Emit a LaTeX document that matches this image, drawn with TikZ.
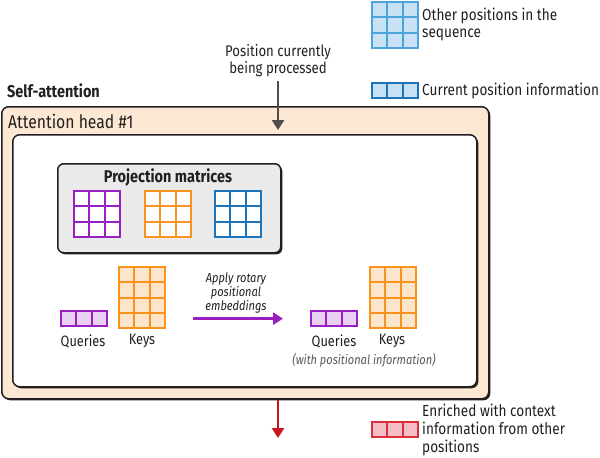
\documentclass[tikz,border=0pt]{standalone}
\usepackage{fontspec}
\setmainfont{Fira Sans}[FakeStretch=0.85]
\usetikzlibrary{arrows.meta,shadows}

\definecolor{ink}{HTML}{231F20}
\definecolor{qpurple}{HTML}{9A1FC0}
\definecolor{qpurplel}{HTML}{E8D0F2}
\definecolor{korange}{HTML}{F7931E}
\definecolor{korangel}{HTML}{FDE5CC}
\definecolor{vblue}{HTML}{1B75BC}
\definecolor{lblue}{HTML}{4DA3DB}
\definecolor{lbluel}{HTML}{C9E1F5}
\definecolor{outred}{HTML}{C4161C}
\definecolor{lred}{HTML}{D9303E}
\definecolor{lredl}{HTML}{F5BDC4}
\definecolor{headtan}{HTML}{FCE8D3}
\definecolor{projgray}{HTML}{EAEAEA}

% one grid of cells, top left corner given
\newcommand{\cellgrid}[6]{%
  \node[inner sep=0pt,outer sep=0pt,anchor=north west,minimum width=#3*15.3pt,minimum height=#4*15.3pt] (#1) at #2 {};
  \foreach \c in {1,...,#3}
    \foreach \r in {1,...,#4}
      \draw[line width=2.2pt,draw=#5,fill=#6] ([shift={(\c*15.3-15.3,\r*15.3-15.3)}]#1.north west) rectangle ++(15.3,15.3);
}

\tikzset{
  boxshadow/.style={drop shadow={shadow xshift=1.6pt,shadow yshift=-1.6pt,fill=ink,opacity=1}},
  panel/.style={draw=ink,line width=1.5pt,rounded corners=7pt,inner sep=0pt,anchor=north west,boxshadow},
  txt/.style={inner sep=0pt,text=ink,font=\fontsize{15}{17}\selectfont},
  legend/.style={txt,anchor=west,align=left,font=\fontsize{16}{17}\selectfont},
  note/.style={txt,font=\itshape\fontsize{13}{14}\selectfont,align=center},
  flow/.style={line width=2.6pt,-{Triangle[length=10pt,width=12pt]}}
}

\begin{document}
\begin{tikzpicture}[x=1pt,y=-1pt]
\path[use as bounding box] (0,0) rectangle (600,458);
% legend
\cellgrid{lgother}{(372,2)}{3}{3}{lblue}{lbluel}
\node[legend] (lgothertxt) at (422,24) {Other positions in the\\sequence};
\cellgrid{lgcur}{(372,83)}{3}{1}{vblue}{lbluel}
\node[legend] (lgcurtxt) at (422,91) {Current position information};
\cellgrid{lgrich}{(372,422)}{3}{1}{lred}{lredl}
\node[legend,font=\fontsize{16}{18}\selectfont] (lgrichtxt) at (422,430) {Enriched with context\\information from other\\positions};
% boxes
\node[txt,anchor=west,font=\bfseries\fontsize{17}{19}\selectfont] (selfatt) at (7,91) {Self-attention};
\node[panel,fill=headtan,minimum width=487pt,minimum height=292pt] (head) at (1,106) {};
\node[txt,anchor=west,font=\fontsize{18.5}{20}\selectfont] (headtxt) at (8,121) {Attention head \#1};
\node[panel,fill=white,minimum width=464pt,minimum height=252pt] (inner) at (12,134) {};
\node[panel,fill=projgray,minimum width=223pt,minimum height=89pt,rounded corners=6pt] (proj) at (57,163) {};
\node[txt,font=\bfseries\fontsize{17}{19}\selectfont] (projtxt) at (168,177) {Projection matrices};
\cellgrid{wq}{(74,191)}{3}{3}{qpurple}{white}
\cellgrid{wk}{(145,191)}{3}{3}{korange}{white}
\cellgrid{wv}{(215,191)}{3}{3}{vblue}{white}
% queries and keys
\cellgrid{qa}{(61,311)}{3}{1}{qpurple}{qpurplel}
\cellgrid{ka}{(119,267)}{3}{4}{korange}{korangel}
\node[txt] (qatxt) at (83,341) {Queries};
\node[txt] (katxt) at (142,341) {Keys};
\cellgrid{qb}{(311,311)}{3}{1}{qpurple}{qpurplel}
\cellgrid{kb}{(370,267)}{3}{4}{korange}{korangel}
\node[txt] (qbtxt) at (334,341) {Queries};
\node[txt] (kbtxt) at (392,341) {Keys};
\node[note,text=ink!75] (withpos) at (364,360) {(with positional information)};
\node[note] (rope) at (236,293) {Apply rotary\\positional\\embeddings};
\draw[flow,qpurple,shorten <=28pt,shorten >=28pt] (qa.east -| ka.east) -- (qb.west);
% in and out
\node[txt,align=center,font=\fontsize{15.5}{17}\selectfont] (poslbl) at (278,61) {Position currently\\being processed};
\draw[flow,ink!80,shorten <=4pt,shorten >=4pt] (poslbl.south) -- (poslbl.south |- inner.north);
\coordinate (outend) at (278,438);
\draw[flow,outred] (head.south -| outend) -- (outend);
\end{tikzpicture}
\end{document}
